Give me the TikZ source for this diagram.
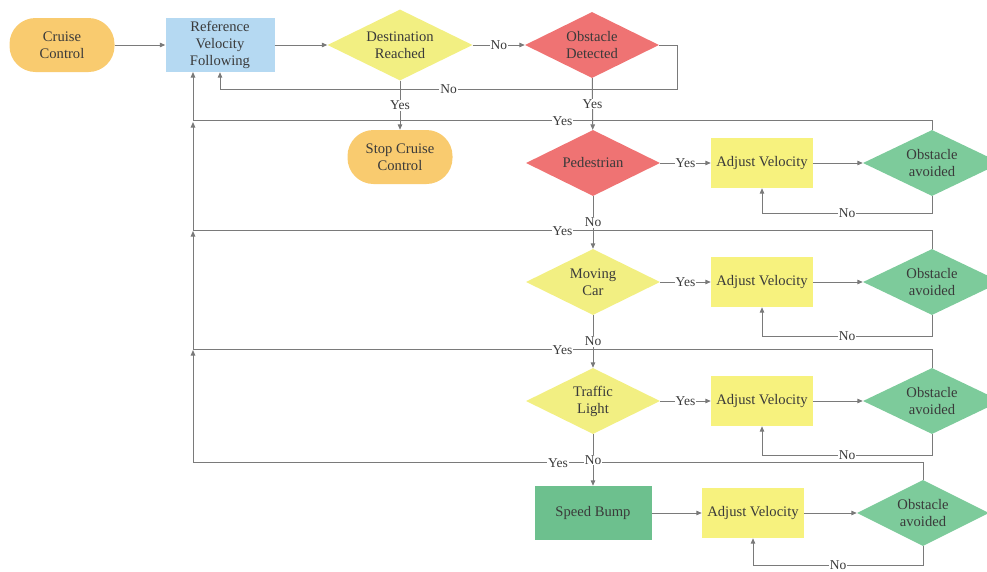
\documentclass[tikz,border=0pt]{standalone}
\usepackage{fontspec}
\setmainfont{Liberation Serif}
\usetikzlibrary{shapes.geometric,arrows.meta}

\definecolor{cOrange}{HTML}{F9CB6F}
\definecolor{cBlue}{HTML}{B5D9F2}
\definecolor{cYellow}{HTML}{F2EF82}
\definecolor{cAdj}{HTML}{F7F27E}
\definecolor{cRed}{HTML}{EF7373}
\definecolor{cGreen}{HTML}{7DCB9B}
\definecolor{cBump}{HTML}{6DC08E}
\definecolor{ln}{HTML}{7A7A7A}
\definecolor{txt}{HTML}{3A3A3A}

\begin{document}
\begin{tikzpicture}[
		x=1pt, y=-1pt,
		font=\fontsize{14.6}{17}\selectfont, text=txt,
		>={Triangle[length=5.5pt,width=4.5pt]},
		t/.style = {rectangle, rounded corners=26pt, fill=cOrange, minimum width=105pt, minimum height=54pt, align=center, inner sep=2pt},
		p/.style = {rectangle, fill=#1, minimum width=102pt, minimum height=50pt, align=center, inner sep=2pt},
		d/.style = {diamond, aspect=2, inner sep=0pt, fill=#1, minimum width=134pt, minimum height=66pt, align=center},
		r/.style = {->, draw=ln, line width=1pt},
		l/.style = {fill=white, inner sep=1pt, font=\fontsize{13.5}{15}\selectfont}
		]
		\useasboundingbox (0,0) rectangle (987,571);
		
		% === === Nodes === ===
		\node[t]	(cruise)	at	(62,45)		{Cruise\\Control};
		\node[p=cBlue, minimum width=109pt, minimum height=54pt]	(ref)	at	(220,45)	{Reference\\Velocity\\Following};
		\node[d=cYellow, minimum width=145pt, minimum height=71pt]	(dest)	at	(400,45)	{Destination\\Reached};
		\node[d=cRed]	(obs)	at	(592,45)	{Obstacle\\Detected};
		\node[t]	(stop)	at	(400,157)	{Stop Cruise\\Control};
		
		\node[d=cRed]	(ped)	at	(593,163)	{Pedestrian};
		\node[p=cAdj]	(adj1)	at	(762,163)	{Adjust Velocity};
		\node[d=cGreen, minimum width=138pt]	(oa1)	at	(932,163)	{Obstacle\\avoided};
		
		\node[d=cYellow]	(car)	at	(593,282)	{Moving\\Car};
		\node[p=cAdj]	(adj2)	at	(762,282)	{Adjust Velocity};
		\node[d=cGreen, minimum width=138pt]	(oa2)	at	(932,282)	{Obstacle\\avoided};
		
		\node[d=cYellow]	(light)	at	(593,401)	{Traffic\\Light};
		\node[p=cAdj]	(adj3)	at	(762,401)	{Adjust Velocity};
		\node[d=cGreen, minimum width=138pt]	(oa3)	at	(932,401)	{Obstacle\\avoided};
		
		\node[p=cBump, minimum width=117pt, minimum height=54pt]	(bump)	at	(593,513)	{Speed Bump};
		\node[p=cAdj]	(adj4)	at	(753,513)	{Adjust Velocity};
		\node[d=cGreen, minimum width=132pt]	(oa4)	at	(923,513)	{Obstacle\\avoided};
		
		% junctions on the return line
		\coordinate	(j0)	at	(193,72);
		\coordinate	(j1)	at	(193,122);
		\coordinate	(j2)	at	(193,231);
		\coordinate	(j3)	at	(193,350);
		
		% === === Lines === ===
		\draw[r]	(cruise)	--	(ref);
		\draw[r]	(ref)		--	(dest);
		\draw[r]	(dest)		--	node[l]	{No}	(obs);
		\draw[r]	(obs.east)	--	++(18,0)	--	++(0,44)	-|	node[l, pos=0.25]	{No}	(ref.south);
		\draw[r]	(dest)		--	node[l]	{Yes}	(stop);
		
		\draw[r]	(oa1.north)	--	++(0,-9)	-|	node[l, pos=0.25]	{Yes}	(j0);
		\draw[r]	(oa2.north)	--	++(0,-18)	-|	node[l, pos=0.25]	{Yes}	(j1);
		\draw[r]	(oa3.north)	--	++(0,-18)	-|	node[l, pos=0.25]	{Yes}	(j2);
		\draw[r]	(oa4.north)	--	++(0,-17)	-|	node[l, pos=0.25]	{Yes}	(j3);
		
		\draw[r]	(obs)		--	node[l]	{Yes}	(ped);
		\draw[r]	(ped)		--	node[l]	{No}	(car);
		\draw[r]	(car)		--	node[l]	{No}	(light);
		\draw[r]	(light)		--	node[l]	{No}	(bump);
		
		\draw[r]	(ped)		--	node[l]	{Yes}	(adj1);
		\draw[r]	(car)		--	node[l]	{Yes}	(adj2);
		\draw[r]	(light)		--	node[l]	{Yes}	(adj3);
		\draw[r]	(bump)		--	(adj4);
		
		\draw[r]	(adj1)	--	(oa1);
		\draw[r]	(adj2)	--	(oa2);
		\draw[r]	(adj3)	--	(oa3);
		\draw[r]	(adj4)	--	(oa4);
		
		\draw[r]	(oa1.south)	--	++(0,17)	-|	node[l, pos=0.25]	{No}	(adj1.south);
		\draw[r]	(oa2.south)	--	++(0,21)	-|	node[l, pos=0.25]	{No}	(adj2.south);
		\draw[r]	(oa3.south)	--	++(0,21)	-|	node[l, pos=0.25]	{No}	(adj3.south);
		\draw[r]	(oa4.south)	--	++(0,19)	-|	node[l, pos=0.25]	{No}	(adj4.south);
		
	\end{tikzpicture}
\end{document}
